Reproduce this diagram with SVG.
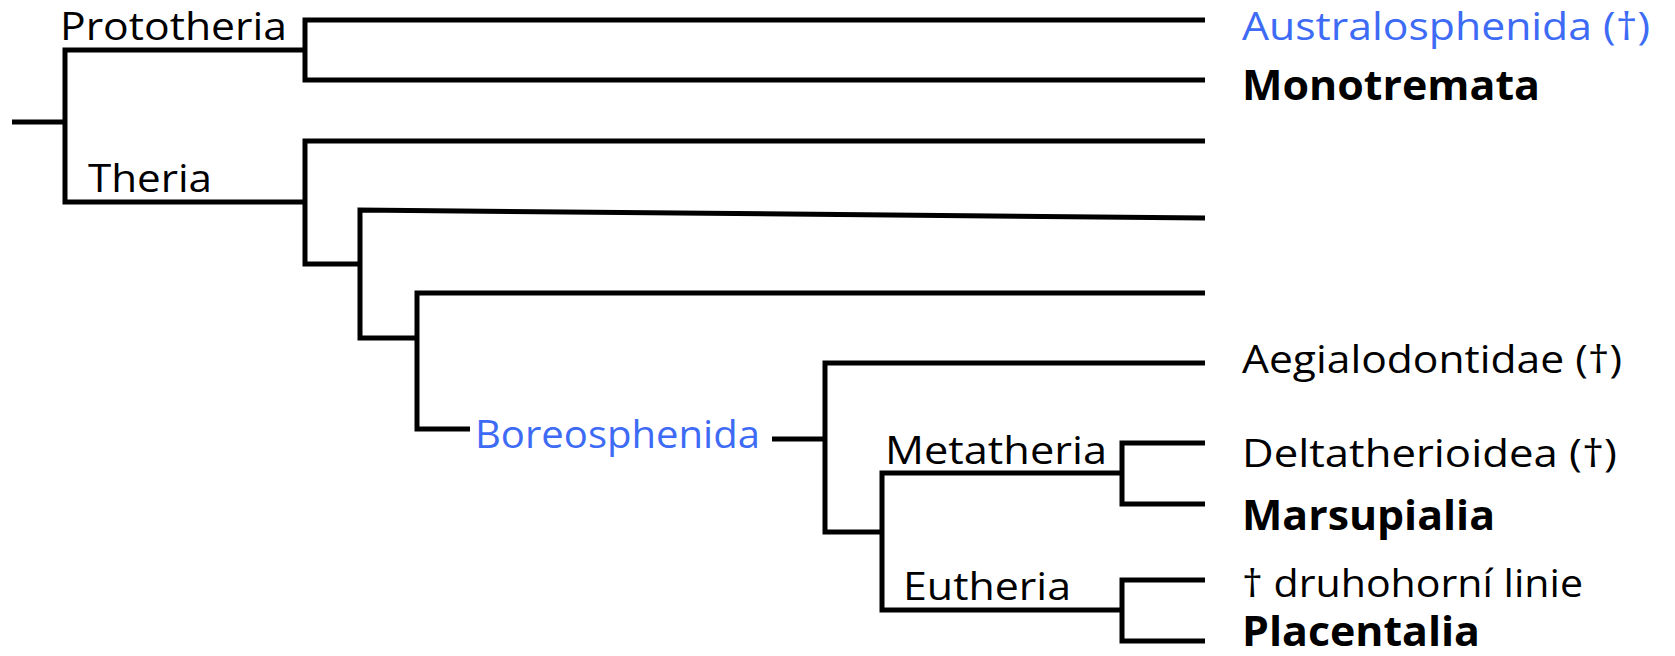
<svg xmlns="http://www.w3.org/2000/svg" width="1675" height="656" viewBox="0 0 1675 656">
<style>
.br{fill:none;stroke:#000;stroke-width:5;stroke-linejoin:miter}
.t{font-family:"Open Sans","Noto Sans",sans-serif;font-size:38px;fill:#000}
.b{font-weight:bold;font-size:41px}
.blue{fill:#3d6bf5}
</style>
<rect width="1675" height="656" fill="#fff"/>
<g id="connectors">
<path class="br" d="M12,122 H65"/>
<path class="br" d="M305,50 H65 V202 H305"/>
<path class="br" d="M1205,20 H305 V80 H1205"/>
<path class="br" d="M1205,141 H305 V264 H360"/>
<path class="br" d="M1205,218 L360,210 V338 H417"/>
<path class="br" d="M1205,293 H417 V429 H470"/>
<path class="br" d="M772,439 H825"/>
<path class="br" d="M1205,363 H825 V532 H882"/>
<path class="br" d="M1122,473 H882 V610 H1122"/>
<path class="br" d="M1205,443 H1122 V504 H1205"/>
<path class="br" d="M1205,580 H1122 V641 H1205"/>
</g>
<g id="n-prototheria"><text class="t" x="60" y="40" textLength="227" lengthAdjust="spacingAndGlyphs">Prototheria</text></g>
<g id="n-theria"><text class="t" x="88" y="192" textLength="124" lengthAdjust="spacingAndGlyphs">Theria</text></g>
<g id="n-boreosphenida"><text class="t blue" x="475" y="448" textLength="285" lengthAdjust="spacingAndGlyphs">Boreosphenida</text></g>
<g id="n-metatheria"><text class="t" x="885" y="464" textLength="222" lengthAdjust="spacingAndGlyphs">Metatheria</text></g>
<g id="n-eutheria"><text class="t" x="903" y="600" textLength="168" lengthAdjust="spacingAndGlyphs">Eutheria</text></g>
<g id="n-australosphenida"><text class="t blue" x="1242" y="40" textLength="408" lengthAdjust="spacingAndGlyphs">Australosphenida (†)</text></g>
<g id="n-monotremata"><text class="t b" x="1242" y="100" textLength="298" lengthAdjust="spacingAndGlyphs">Monotremata</text></g>
<g id="n-aegialodontidae"><text class="t" x="1242" y="373" textLength="380" lengthAdjust="spacingAndGlyphs">Aegialodontidae (†)</text></g>
<g id="n-deltatherioidea"><text class="t" x="1242" y="467" textLength="375" lengthAdjust="spacingAndGlyphs">Deltatherioidea (†)</text></g>
<g id="n-marsupialia"><text class="t b" x="1242" y="530" textLength="253" lengthAdjust="spacingAndGlyphs">Marsupialia</text></g>
<g id="n-druhohorni"><text class="t" x="1242" y="597" textLength="341" lengthAdjust="spacingAndGlyphs">† druhohorní linie</text></g>
<g id="n-placentalia"><text class="t b" x="1242" y="646" textLength="238" lengthAdjust="spacingAndGlyphs">Placentalia</text></g>
</svg>
